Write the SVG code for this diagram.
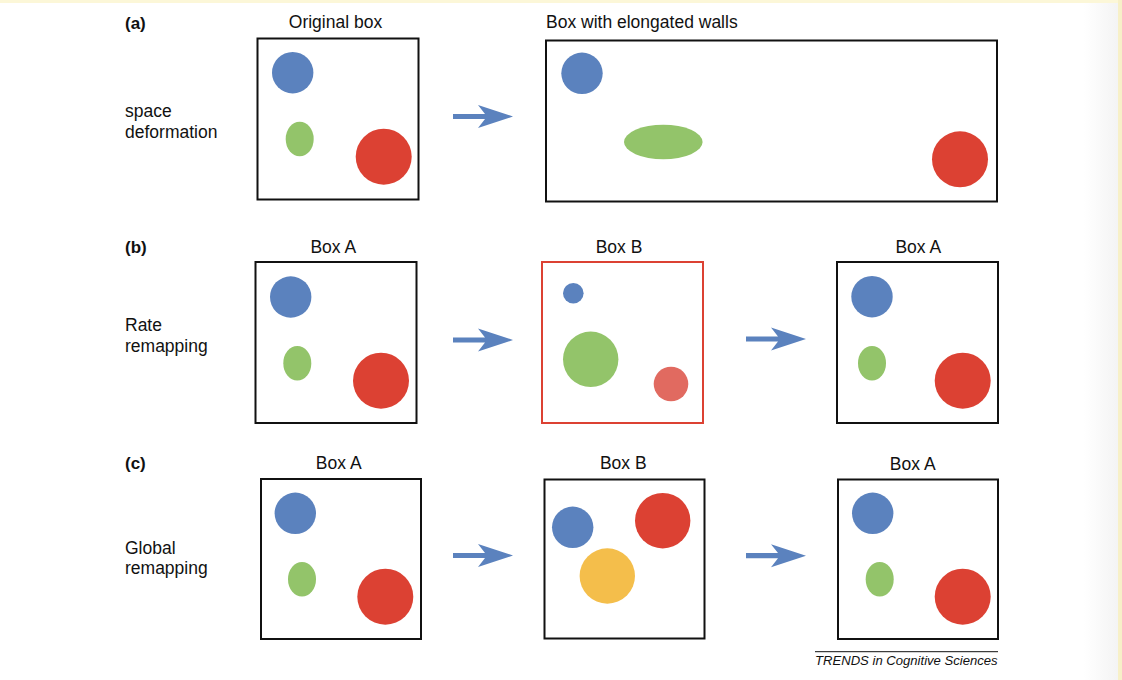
<svg xmlns="http://www.w3.org/2000/svg" width="1122" height="680" viewBox="0 0 1122 680">
<defs>
<linearGradient id="side" x1="0" y1="0" x2="1" y2="0">
<stop offset="0" stop-color="#ffffff"/>
<stop offset="1" stop-color="#f3f3f3"/>
</linearGradient>
<path id="arr" d="M0,-2.6 H32 V-2.6 L25,-11.5 L60,0 L25,11.5 L32,2.6 H0 Z"/>
</defs>
<style>
text{font-family:"Liberation Sans",Arial,Helvetica,sans-serif;fill:#111;}
.t{font-size:17.5px;}
.h{font-size:17px;font-weight:bold;}
.c{text-anchor:middle;}
.box{fill:#fff;stroke:#111;stroke-width:2;}
.boxr{fill:#fff;stroke:#dc4133;stroke-width:2;}
.bl{fill:#5b82be;}
.gr{fill:#93c46a;}
.rd{fill:#dc4133;}
.lr{fill:#e16a60;}
.yl{fill:#f4be4b;}
.arrow{fill:#5b82be;}
.foot{font-size:13.1px;font-style:italic;}
</style>
<rect x="0" y="0" width="1122" height="680" fill="#fff"/>
<rect x="1084" y="0" width="36" height="680" fill="url(#side)"/>
<rect x="0" y="0" width="1122" height="3" fill="#fcf7d8"/>
<rect x="1118" y="0" width="4" height="680" fill="#f7f0c8"/>

<g id="labels">
<text class="h" x="125" y="29">(a)</text>
<text class="t" x="125" y="117">space</text>
<text class="t" x="125" y="137.5">deformation</text>
<text class="h" x="125" y="253">(b)</text>
<text class="t" x="125" y="331">Rate</text>
<text class="t" x="125" y="352">remapping</text>
<text class="h" x="125" y="469">(c)</text>
<text class="t" x="125" y="553.5">Global</text>
<text class="t" x="125" y="574">remapping</text>
</g>

<g id="a-original">
<text class="t c" x="335.5" y="28">Original box</text>
<rect class="box" x="257.5" y="38.5" width="161" height="161"/>
<circle class="bl" cx="292.7" cy="72.7" r="20.7"/>
<ellipse class="gr" cx="299.7" cy="139" rx="14" ry="17.3"/>
<circle class="rd" cx="383.7" cy="156.7" r="28"/>
</g>

<g id="a-elongated">
<text class="t" x="546" y="28">Box with elongated walls</text>
<rect class="box" x="546" y="40.5" width="451" height="161"/>
<circle class="bl" cx="582" cy="73.3" r="20.7"/>
<ellipse class="gr" cx="663.3" cy="142" rx="39.3" ry="17.3"/>
<circle class="rd" cx="960" cy="159.3" r="28"/>
</g>

<g id="b-boxA1">
<text class="t c" x="333.3" y="253">Box A</text>
<rect class="box" x="255.5" y="262" width="161" height="161"/>
<circle class="bl" cx="290.7" cy="297" r="20.7"/>
<ellipse class="gr" cx="297.3" cy="363.3" rx="14" ry="17.3"/>
<circle class="rd" cx="381" cy="380.7" r="28"/>
</g>

<g id="b-boxB">
<text class="t c" x="619" y="253">Box B</text>
<rect class="boxr" x="542" y="262" width="161" height="161"/>
<circle class="bl" cx="573.3" cy="293.3" r="10.3"/>
<circle class="gr" cx="590.7" cy="359.3" r="27.7"/>
<circle class="lr" cx="671" cy="384" r="17.3"/>
</g>

<g id="b-boxA2">
<text class="t c" x="918.3" y="253">Box A</text>
<rect class="box" x="837" y="262" width="161" height="161"/>
<circle class="bl" cx="872" cy="296.7" r="20.7"/>
<ellipse class="gr" cx="872" cy="363.3" rx="14" ry="17.3"/>
<circle class="rd" cx="962.7" cy="380.7" r="28"/>
</g>

<g id="c-boxA1">
<text class="t c" x="338.7" y="469">Box A</text>
<rect class="box" x="261" y="479" width="160" height="160"/>
<circle class="bl" cx="295.3" cy="513.3" r="20.7"/>
<ellipse class="gr" cx="302" cy="579.3" rx="14" ry="17.3"/>
<circle class="rd" cx="385.3" cy="596.7" r="28"/>
</g>

<g id="c-boxB">
<text class="t c" x="623.3" y="468.5">Box B</text>
<rect class="box" x="544.5" y="479.5" width="160" height="159"/>
<circle class="bl" cx="572.7" cy="527.3" r="20.7"/>
<circle class="rd" cx="662.7" cy="520.7" r="27.7"/>
<circle class="yl" cx="607.3" cy="576" r="27.7"/>
</g>

<g id="c-boxA2">
<text class="t c" x="912.7" y="469.5">Box A</text>
<rect class="box" x="838" y="479.5" width="160" height="159.5"/>
<circle class="bl" cx="872.7" cy="513.3" r="20.7"/>
<ellipse class="gr" cx="879.7" cy="579.3" rx="14" ry="17.3"/>
<circle class="rd" cx="962.7" cy="596.7" r="28"/>
</g>

<g id="connectors" class="arrow">
<use href="#arr" x="453" y="116.5"/>
<use href="#arr" x="453" y="340"/>
<use href="#arr" x="746" y="339"/>
<use href="#arr" x="453" y="555.5"/>
<use href="#arr" x="746" y="555.7"/>
</g>

<g id="footer">
<line x1="815" y1="651.7" x2="998" y2="651.7" stroke="#111" stroke-width="1"/>
<text class="foot" x="815" y="665">TRENDS in Cognitive Sciences</text>
</g>
</svg>
